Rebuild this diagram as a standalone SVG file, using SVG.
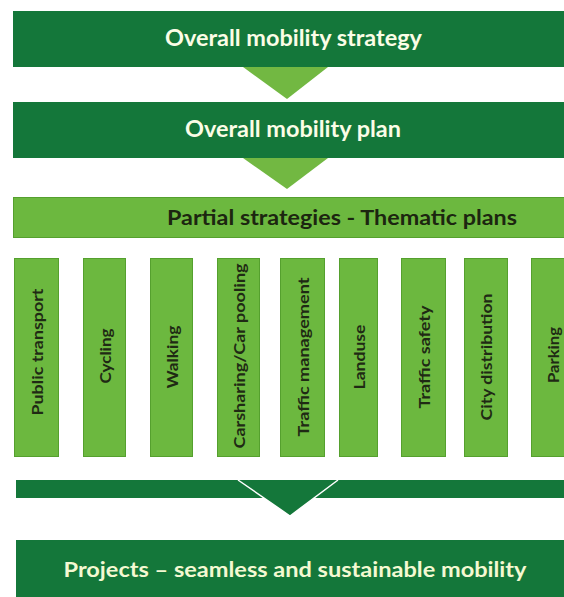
<svg xmlns="http://www.w3.org/2000/svg" width="564" height="597" viewBox="0 0 564 597">
<style>
.dark{fill:#14773a}
.light{fill:#6cb83f;stroke:#55a02e;stroke-width:1}
.tri{fill:#72b842}
.wt{font-family:"Lato","Liberation Sans",sans-serif;font-weight:bold;fill:#fbfde6;text-anchor:middle;lengthAdjust:spacingAndGlyphs}
.bt{font-family:"Lato","Liberation Sans",sans-serif;font-weight:bold;fill:#1c2610;text-anchor:middle}
.vt{font-family:"Lato","Liberation Sans",sans-serif;font-weight:bold;fill:#1f2a14;text-anchor:middle;font-size:15px}
</style>
<rect width="564" height="597" fill="#ffffff"/>
<g id="connectors">
<polygon class="tri" points="243,67 328,67 287,99"/>
<polygon class="tri" points="243,158 328,158 287,189"/>
</g>
<g id="strategy">
<rect class="dark" x="13" y="11" width="551" height="56"/>
<text class="wt" x="293.5" y="46" font-size="22" textLength="257" lengthAdjust="spacingAndGlyphs">Overall mobility strategy</text>
</g>
<g id="plan">
<rect class="dark" x="13" y="102" width="551" height="56"/>
<text class="wt" x="293" y="137" font-size="22" textLength="216" lengthAdjust="spacingAndGlyphs">Overall mobility plan</text>
</g>
<g id="partial">
<rect class="light" x="13.5" y="197.5" width="552" height="40"/>
<text class="bt" x="342" y="225" font-size="21" textLength="350" lengthAdjust="spacingAndGlyphs">Partial strategies - Thematic plans</text>
</g>
<g id="public-transport">
<rect class="light" x="14.5" y="258.5" width="44" height="198"/>
<text class="vt" transform="translate(38,352) rotate(-90)" x="0" y="5" textLength="127" lengthAdjust="spacingAndGlyphs">Public transport</text>
</g>
<g id="cycling">
<rect class="light" x="83.5" y="258.5" width="42" height="198"/>
<text class="vt" transform="translate(106,356) rotate(-90)" x="0" y="5" textLength="55" lengthAdjust="spacingAndGlyphs">Cycling</text>
</g>
<g id="walking">
<rect class="light" x="150.5" y="258.5" width="42" height="198"/>
<text class="vt" transform="translate(173,357) rotate(-90)" x="0" y="5" textLength="63" lengthAdjust="spacingAndGlyphs">Walking</text>
</g>
<g id="carsharing">
<rect class="light" x="217.5" y="258.5" width="42" height="198"/>
<text class="vt" transform="translate(240,356) rotate(-90)" x="0" y="5" textLength="185" lengthAdjust="spacingAndGlyphs">Carsharing/Car pooling</text>
</g>
<g id="traffic-management">
<rect class="light" x="280.5" y="258.5" width="44" height="198"/>
<text class="vt" transform="translate(304,357) rotate(-90)" x="0" y="5" textLength="159" lengthAdjust="spacingAndGlyphs">Traffic management</text>
</g>
<g id="landuse">
<rect class="light" x="339.5" y="258.5" width="38" height="198"/>
<text class="vt" transform="translate(360,357) rotate(-90)" x="0" y="5" textLength="65" lengthAdjust="spacingAndGlyphs">Landuse</text>
</g>
<g id="traffic-safety">
<rect class="light" x="401.5" y="258.5" width="44" height="198"/>
<text class="vt" transform="translate(425,357) rotate(-90)" x="0" y="5" textLength="103" lengthAdjust="spacingAndGlyphs">Traffic safety</text>
</g>
<g id="city-distribution">
<rect class="light" x="464.5" y="258.5" width="43" height="198"/>
<text class="vt" transform="translate(487,357) rotate(-90)" x="0" y="5" textLength="127" lengthAdjust="spacingAndGlyphs">City distribution</text>
</g>
<g id="parking">
<rect class="light" x="531.5" y="258.5" width="44" height="198"/>
<text class="vt" transform="translate(554,355) rotate(-90)" x="0" y="5" textLength="56" lengthAdjust="spacingAndGlyphs">Parking</text>
</g>
<g id="collector">
<rect class="dark" x="16" y="480" width="548" height="18"/>
<path d="M238,480 L290,516 L338,480" fill="#14773a" stroke="#ffffff" stroke-width="1.5"/>
</g>
<g id="projects">
<rect class="dark" x="16" y="540" width="548" height="57"/>
<text class="wt" x="295" y="577" font-size="21" textLength="463" lengthAdjust="spacingAndGlyphs" style="fill:#f4f9d2">Projects – seamless and sustainable mobility</text>
</g>
</svg>
